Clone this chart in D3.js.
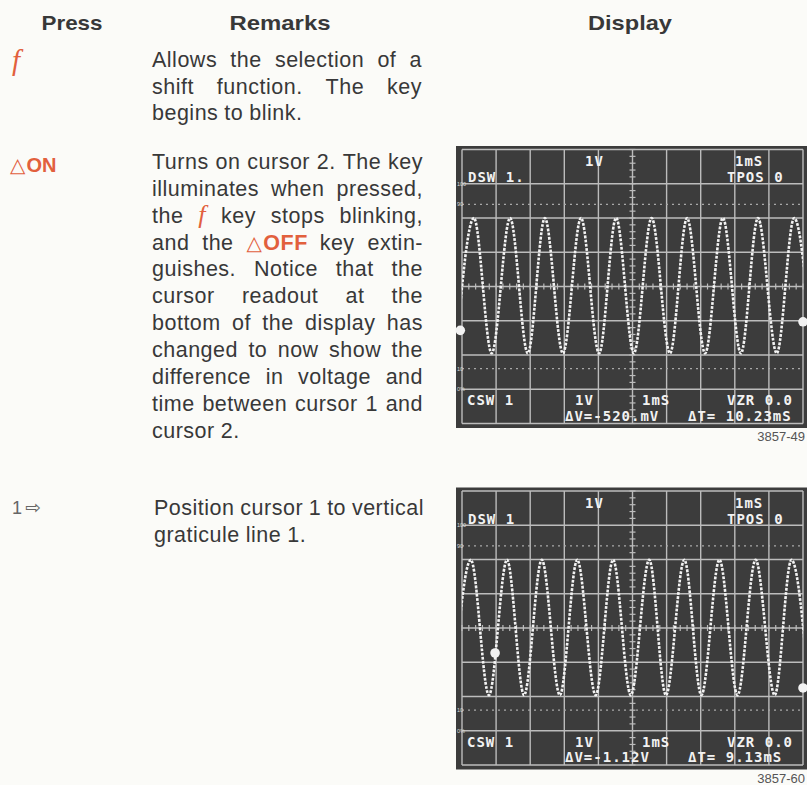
<!DOCTYPE html>
<html><head><meta charset="utf-8">
<script src="https://cdn.jsdelivr.net/npm/d3@7"></script>
<style>
html,body{margin:0;padding:0;background:#fbfbf8;}
svg{display:block;}
</style></head><body>
<svg id="page" width="807" height="785"></svg>
<script>
// ---------- DATA ----------
const headers = ["Press", "Remarks", "Display"];
const pressKeys = ["f", "ON", "1"];
const para1 = ["Allows the selection of a", "shift function. The key", "begins to blink."];
const para2 = ["Turns on cursor 2. The key", "illuminates when pressed,", "the {f} key stops blinking,",
  "and the {dOFF} key extin-", "guishes. Notice that the", "cursor readout at the",
  "bottom of the display has", "changed to now show the", "difference in voltage and",
  "time between cursor 1 and", "cursor 2."];
const para3 = ["Position cursor 1 to vertical", "graticule line 1."];

// scope 1 trace: extrema positions (graticule divisions) and levels (divisions, 1V/div)
const scope1Peaks = [0.35, 1.41, 2.43, 3.49, 4.52, 5.56, 6.60, 7.65, 8.68, 9.74];
const scope1Troughs = [-0.18, 0.87, 1.93, 2.96, 4.02, 5.04, 6.10, 7.13, 8.18, 9.23, 10.27];
const scope1Levels = [2.0, -1.95];
const scope1Cursors = [[-0.05, -1.28], [10.0, -1.03]];
const scope1Top = ["1V", "1mS", "DSW 1.", "TPOS 0"];
const scope1Bottom = ["CSW 1", "1V", "1mS", "VZR 0.0", "ΔV=-520.mV", "ΔT= 10.23mS"];
const scope1Id = "3857-49";

const scope2Peaks = [0.26, 1.32, 2.34, 3.38, 4.43, 5.49, 6.52, 7.55, 8.61, 9.66];
const scope2Troughs = [-0.27, 0.79, 1.82, 2.87, 3.92, 4.95, 5.98, 7.02, 8.08, 9.17, 10.19];
const scope2Levels = [1.99, -1.96];
const scope2Cursors = [[0.97, -0.73], [10.0, -1.75]];
const scope2Top = ["1V", "1mS", "DSW 1", "TPOS 0"];
const scope2Bottom = ["CSW 1", "1V", "1mS", "VZR 0.0", "ΔV=-1.12V", "ΔT= 9.13mS"];
const scope2Id = "3857-60";

const refMarks = ["100", "90", "10", "0%"];

// ---------- DRAW ----------
const svg = d3.select("#page");
const ORANGE = "#e2603d", INK = "#383838";
const SANS = "'Liberation Sans', Arial, sans-serif";

// headers
const headerLayout = [[72, 61], [280, 101], [630, 84]];
svg.selectAll("text.hdr").data(headers).join("text").attr("class", "hdr")
  .attr("x", (d, i) => headerLayout[i][0] - headerLayout[i][1] / 2).attr("y", 30)
  .attr("textLength", (d, i) => headerLayout[i][1]).attr("lengthAdjust", "spacingAndGlyphs")
  .attr("font-family", SANS).attr("font-weight", "bold").attr("font-size", 21)
  .attr("fill", INK).text(d => d);

// press column
svg.append("text").attr("x", 12).attr("y", 70).attr("font-family", "'Liberation Serif', serif")
  .attr("font-style", "italic").attr("font-size", 29).attr("fill", ORANGE).text(pressKeys[0]);
const on = svg.append("text").attr("x", 10).attr("y", 172).attr("fill", ORANGE).attr("font-size", 20);
on.append("tspan").attr("font-family", "'DejaVu Sans', sans-serif").attr("font-size", 20).text("△");
on.append("tspan").attr("font-family", SANS).attr("font-weight", "bold").attr("dx", 1).text(pressKeys[1]);
const one = svg.append("text").attr("x", 12).attr("y", 514).attr("fill", "#666").attr("font-size", 18);
one.append("tspan").attr("font-family", SANS).text(pressKeys[2]);
one.append("tspan").attr("font-family", "'DejaVu Sans', sans-serif").attr("font-size", 19).attr("dx", 3).text("⇨");

// justified paragraphs
function makeWord(g, w, y) {
  const t = g.append("text").attr("y", y).attr("font-family", SANS).attr("font-size", 21.5)
    .attr("letter-spacing", 0.5).attr("fill", INK);
  if (w === "{f}") {
    t.attr("font-family", "'Liberation Serif', serif").attr("font-style", "italic")
      .attr("font-size", 26).attr("fill", ORANGE).text("f");
  } else if (w === "{dOFF}") {
    t.attr("fill", ORANGE);
    t.append("tspan").attr("font-family", "'DejaVu Sans', sans-serif").attr("font-size", 20).text("△");
    t.append("tspan").attr("font-weight", "bold").attr("dx", 1).text("OFF");
  } else t.text(w);
  return t;
}
function drawPara(lines, x0, x1, y0, lh) {
  const g = svg.append("g");
  lines.forEach((line, i) => {
    const y = y0 + i * lh;
    const words = line.split(" ");
    const nodes = words.map(w => makeWord(g, w, y));
    const widths = nodes.map(n => n.node().getComputedTextLength());
    const total = d3.sum(widths);
    const last = i === lines.length - 1;
    const gap = (last || words.length < 2) ? 6 : (x1 - x0 - total) / (words.length - 1);
    let cx = x0;
    nodes.forEach((n, k) => { n.attr("x", cx); cx += widths[k] + gap; });
  });
}
drawPara(para1, 152, 422, 67, 26.5);
drawPara(para2, 152, 423, 169, 26.85);
drawPara(para3, 154, 424, 515, 26.5);

// oscilloscope displays
function drawScope(top, peaks, troughs, levels, cursors, topLbl, botLbl, figId) {
  const x = d3.scaleLinear().domain([0, 10]).range([462, 803]);
  const y = d3.scaleLinear().domain([-4, 4]).range([top + 274, top]);
  const g = svg.append("g");
  g.append("rect").attr("x", 456).attr("y", top - 3.5).attr("width", 351).attr("height", 282)
    .attr("fill", "#3c3c3c");
  const gridCol = "#bcbcbc";
  g.selectAll("line.v").data(d3.range(0, 11)).join("line").attr("class", "v")
    .attr("x1", d => x(d)).attr("x2", d => x(d)).attr("y1", y(4)).attr("y2", y(-4))
    .attr("stroke", gridCol).attr("stroke-width", 1.4);
  g.selectAll("line.h").data(d3.range(-4, 5)).join("line").attr("class", "h")
    .attr("x1", x(0)).attr("x2", x(10)).attr("y1", d => y(d)).attr("y2", d => y(d))
    .attr("stroke", gridCol).attr("stroke-width", 1.4);
  // minor ticks on centre lines
  g.selectAll("line.mx").data(d3.range(0, 10.01, 0.2)).join("line").attr("class", "mx")
    .attr("x1", d => x(d)).attr("x2", d => x(d)).attr("y1", y(0) - 3).attr("y2", y(0) + 3)
    .attr("stroke", gridCol).attr("stroke-width", 1.2);
  g.selectAll("line.my").data(d3.range(-4, 4.01, 0.2)).join("line").attr("class", "my")
    .attr("y1", d => y(d)).attr("y2", d => y(d)).attr("x1", x(5) - 3).attr("x2", x(5) + 3)
    .attr("stroke", gridCol).attr("stroke-width", 1.2);
  // 90% / 10% dotted lines
  g.selectAll("line.pct").data([2.4, -2.4]).join("line").attr("class", "pct")
    .attr("x1", x(0)).attr("x2", x(10)).attr("y1", d => y(d)).attr("y2", d => y(d))
    .attr("stroke", "#a8a8a8").attr("stroke-width", 1.3).attr("stroke-dasharray", "2,4");
  g.selectAll("text.rm").data(refMarks).join("text").attr("class", "rm")
    .attr("x", 457).attr("y", (d, i) => y([3, 2.4, -2.4, -3][i]) + 2)
    .attr("font-family", SANS).attr("font-size", 5.5).attr("fill", "#ddd").text(d => d);
  // trace
  const clipId = "clip" + top;
  svg.append("clipPath").attr("id", clipId).append("rect")
    .attr("x", x(0)).attr("y", y(4)).attr("width", x(10) - x(0)).attr("height", y(-4) - y(4));
  const pts = peaks.map(p => [p, levels[0]]).concat(troughs.map(t => [t, levels[1]]))
    .sort((a, b) => a[0] - b[0]);
  const line = d3.line().x(d => x(d[0])).y(d => y(d[1])).curve(d3.curveMonotoneX);
  g.append("path").attr("d", line(pts)).attr("clip-path", `url(#${clipId})`)
    .attr("fill", "none").attr("stroke", "#f3f3f3").attr("stroke-width", 2.6)
    .attr("stroke-dasharray", "2.8,1.4");
  // cursors
  g.selectAll("circle").data(cursors).join("circle")
    .attr("cx", d => x(d[0])).attr("cy", d => y(d[1])).attr("r", 4.8).attr("fill", "#f2f2f2");
  // readouts
  const mono = t => t.attr("font-family", "'DejaVu Sans Mono', monospace").attr("font-weight", "bold")
    .attr("font-size", 14).attr("letter-spacing", 1).attr("fill", "#f2f2f2");
  const topPos = [[585, 16.5], [735, 16.5], [468, 32.5], [727, 32.5]];
  const botPos = [[467, 255.5], [575, 255.5], [642, 255.5], [727, 255.5], [565, 271], [688, 271]];
  g.selectAll("text.tl").data(topLbl).join("text").attr("class", "tl").call(mono)
    .attr("x", (d, i) => topPos[i][0]).attr("y", (d, i) => top + topPos[i][1]).text(d => d);
  g.selectAll("text.bl").data(botLbl).join("text").attr("class", "bl").call(mono)
    .attr("x", (d, i) => botPos[i][0]).attr("y", (d, i) => top + botPos[i][1]).text(d => d);
  svg.append("text").attr("x", 805).attr("y", top + 291.5).attr("text-anchor", "end")
    .attr("font-family", SANS).attr("font-size", 13).attr("fill", "#555").text(figId);
}
drawScope(149.5, scope1Peaks, scope1Troughs, scope1Levels, scope1Cursors, scope1Top, scope1Bottom, scope1Id);
drawScope(491, scope2Peaks, scope2Troughs, scope2Levels, scope2Cursors, scope2Top, scope2Bottom, scope2Id);
</script>
</body></html>
